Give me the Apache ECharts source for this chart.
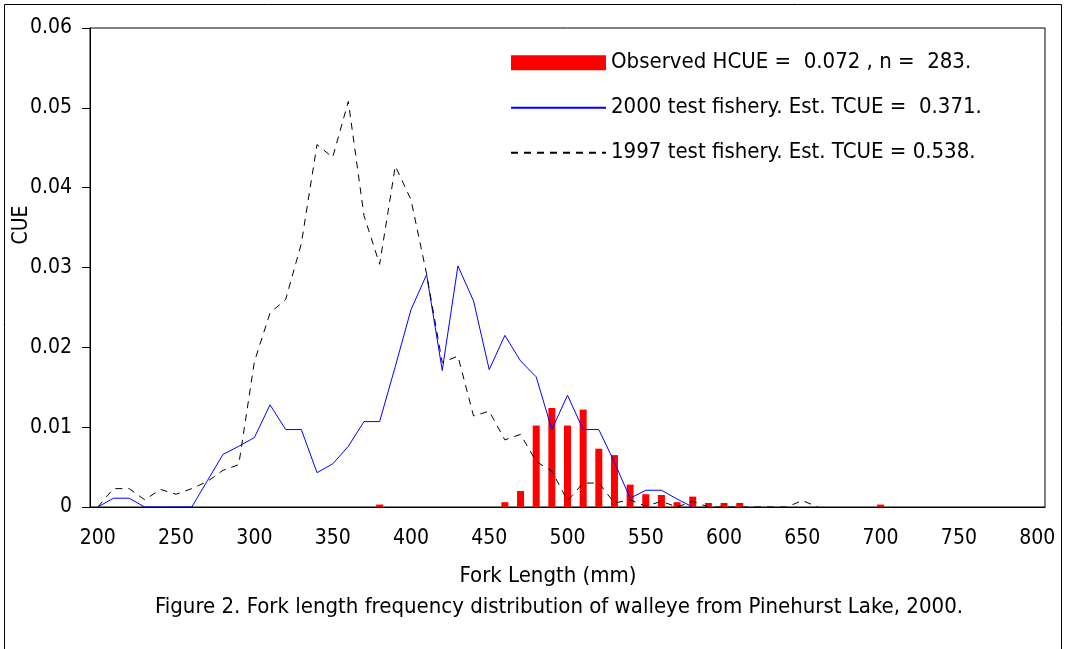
<!DOCTYPE html>
<html>
<head>
<meta charset="utf-8">
<script src="https://cdn.jsdelivr.net/npm/echarts@6/dist/echarts.min.js"></script>
<style>
  html, body { margin: 0; padding: 0; background: #fff; }
  #main { width: 1066px; height: 649px; }
</style>
</head>
<body>
<div id="main"></div>
<script>
// fork length classes (mm)
var lengths = ['200','210','220','230','240','250','260','270','280','290',
    '300','310','320','330','340','350','360','370','380','390',
    '400','410','420','430','440','450','460','470','480','490',
    '500','510','520','530','540','550','560','570','580','590',
    '600','610','620','630','640','650','660','670','680','690',
    '700','710','720','730','740','750','760','770','780','790','800'];

// Observed HCUE (bars)
var observed = [0,0,0,0,0,0,0,0,0,0,
    0,0,0,0,0,0,0,0,0.0003,0,
    0,0,0,0,0,0,0.0006,0.002,0.0102,0.0124,
    0.0102,0.0122,0.0073,0.0065,0.0028,0.0016,0.0015,0.0006,0.0013,0.0005,
    0.0005,0.0005,0,0,0,0,0,0,0,0,
    0.0003,0,0,0,0,0,0,0,0,0,0];

// 2000 test fishery
var test2000 = [0,0.0011,0.0011,0,0,0,0,0.0033,0.0066,0.0076,
    0.0087,0.0128,0.0097,0.0097,0.0043,0.0054,0.0076,0.0107,0.0107,0.0176,
    0.0247,0.0291,0.0171,0.0302,0.0258,0.0172,0.0215,0.0183,0.0163,0.0097,
    0.014,0.0097,0.0097,0.0056,0.0011,0.0021,0.0021,0.001,0,null,
    null,null,null,null,null,null,null,null,null,null,
    null,null,null,null,null,null,null,null,null,null,null];

// 1997 test fishery
var test1997 = [0,0.0023,0.0023,0.0009,0.0022,0.0016,0.0023,0.0032,0.0046,0.0053,
    0.0182,0.0243,0.026,0.033,0.0454,0.0438,0.0508,0.0365,0.0304,0.0427,
    0.0385,0.0292,0.0181,0.0189,0.0114,0.012,0.0084,0.0091,0.0057,0.0045,
    0.0008,0.003,0.003,0.0005,0.0009,0.0001,0.0007,0,0.0007,0,
    0,0,0,0,0,0.0008,0,null,null,null,
    null,null,null,null,null,null,null,null,null,null,null];

var yTicks = [0, 0.01, 0.02, 0.03, 0.04, 0.05, 0.06];

var names = ['Observed HCUE =  0.072 , n =  283.',
    '2000 test fishery. Est. TCUE =  0.371.',
    '1997 test fishery. Est. TCUE = 0.538.'];

var font = '"DejaVu Sans Condensed", "DejaVu Sans", sans-serif';
var fs = 21;   // axis labels
var fsText = 22; // legend, titles
var chart = echarts.init(document.getElementById('main'));

var option = {
    animation: false,
    backgroundColor: '#fff',
    textStyle: { fontFamily: font },
    grid: {
        left: 90, right: 21, top: 28, bottom: 142,
        show: true, borderColor: '#000', borderWidth: 1,
        outerBoundsMode: 'none'
    },
    legend: {
        orient: 'vertical',
        left: 510, top: 51.75, padding: 0,
        itemWidth: 95, itemHeight: 15, itemGap: 23,
        selectedMode: false,
        textStyle: { fontFamily: font, fontSize: fsText, color: '#000', lineHeight: 15 },
        data: [
            { name: names[0], icon: 'rect' },
            { name: names[1], itemStyle: { opacity: 0 } },
            { name: names[2], itemStyle: { opacity: 0 } }
        ]
    },
    xAxis: {
        type: 'category',
        data: lengths,
        boundaryGap: true,
        axisLine: { lineStyle: { color: '#000', width: 1 } },
        axisTick: { interval: 0, length: 6, lineStyle: { color: '#000' } },
        axisLabel: { interval: 4, margin: 21, fontSize: fs, color: '#000', fontFamily: font },
        splitLine: { show: false }
    },
    yAxis: {
        type: 'value',
        min: yTicks[0], max: yTicks[yTicks.length - 1], interval: 0.01,
        axisLine: { show: true, lineStyle: { color: '#000', width: 1 } },
        axisTick: { show: true, length: 8, lineStyle: { color: '#000' } },
        axisLabel: {
            margin: 18, fontSize: fs, color: '#000', fontFamily: font,
            formatter: function (v) { return v === 0 ? '0' : v.toFixed(2); }
        },
        splitLine: { show: false }
    },
    graphic: [
        {
            type: 'rect', silent: true,
            shape: { x: 4.5, y: 4.5, width: 1057, height: 700 },
            style: { fill: 'none', stroke: '#000', lineWidth: 1 }
        },
        {
            type: 'text', x: 22, y: 225, rotation: Math.PI / 2,
            style: { text: 'CUE', fontFamily: font, fontSize: fs, fill: '#000',
                align: 'center', verticalAlign: 'middle' }
        },
        {
            type: 'text', x: 548, y: 576,
            style: { text: 'Fork Length (mm)', fontFamily: font, fontSize: fsText, fill: '#000',
                align: 'center', verticalAlign: 'middle' }
        },
        {
            type: 'text', x: 559, y: 607,
            style: { text: 'Figure 2. Fork length frequency distribution of walleye from Pinehurst Lake, 2000.',
                fontFamily: font, fontSize: fsText, fill: '#000',
                align: 'center', verticalAlign: 'middle' }
        }
    ],
    series: [
        {
            name: names[0],
            type: 'bar',
            data: observed,
            barWidth: 7,
            itemStyle: { color: '#ff0000' }
        },
        {
            name: names[1],
            type: 'line',
            data: test2000,
            symbol: 'none',
            lineStyle: { color: '#0000ff', width: 1 },
            itemStyle: { color: '#0000ff' }
        },
        {
            name: names[2],
            type: 'line',
            data: test1997,
            symbol: 'none',
            lineStyle: { color: '#000', width: 1, type: [7, 6] },
            itemStyle: { color: '#000' }
        }
    ]
};
chart.setOption(option);
</script>
</body>
</html>
